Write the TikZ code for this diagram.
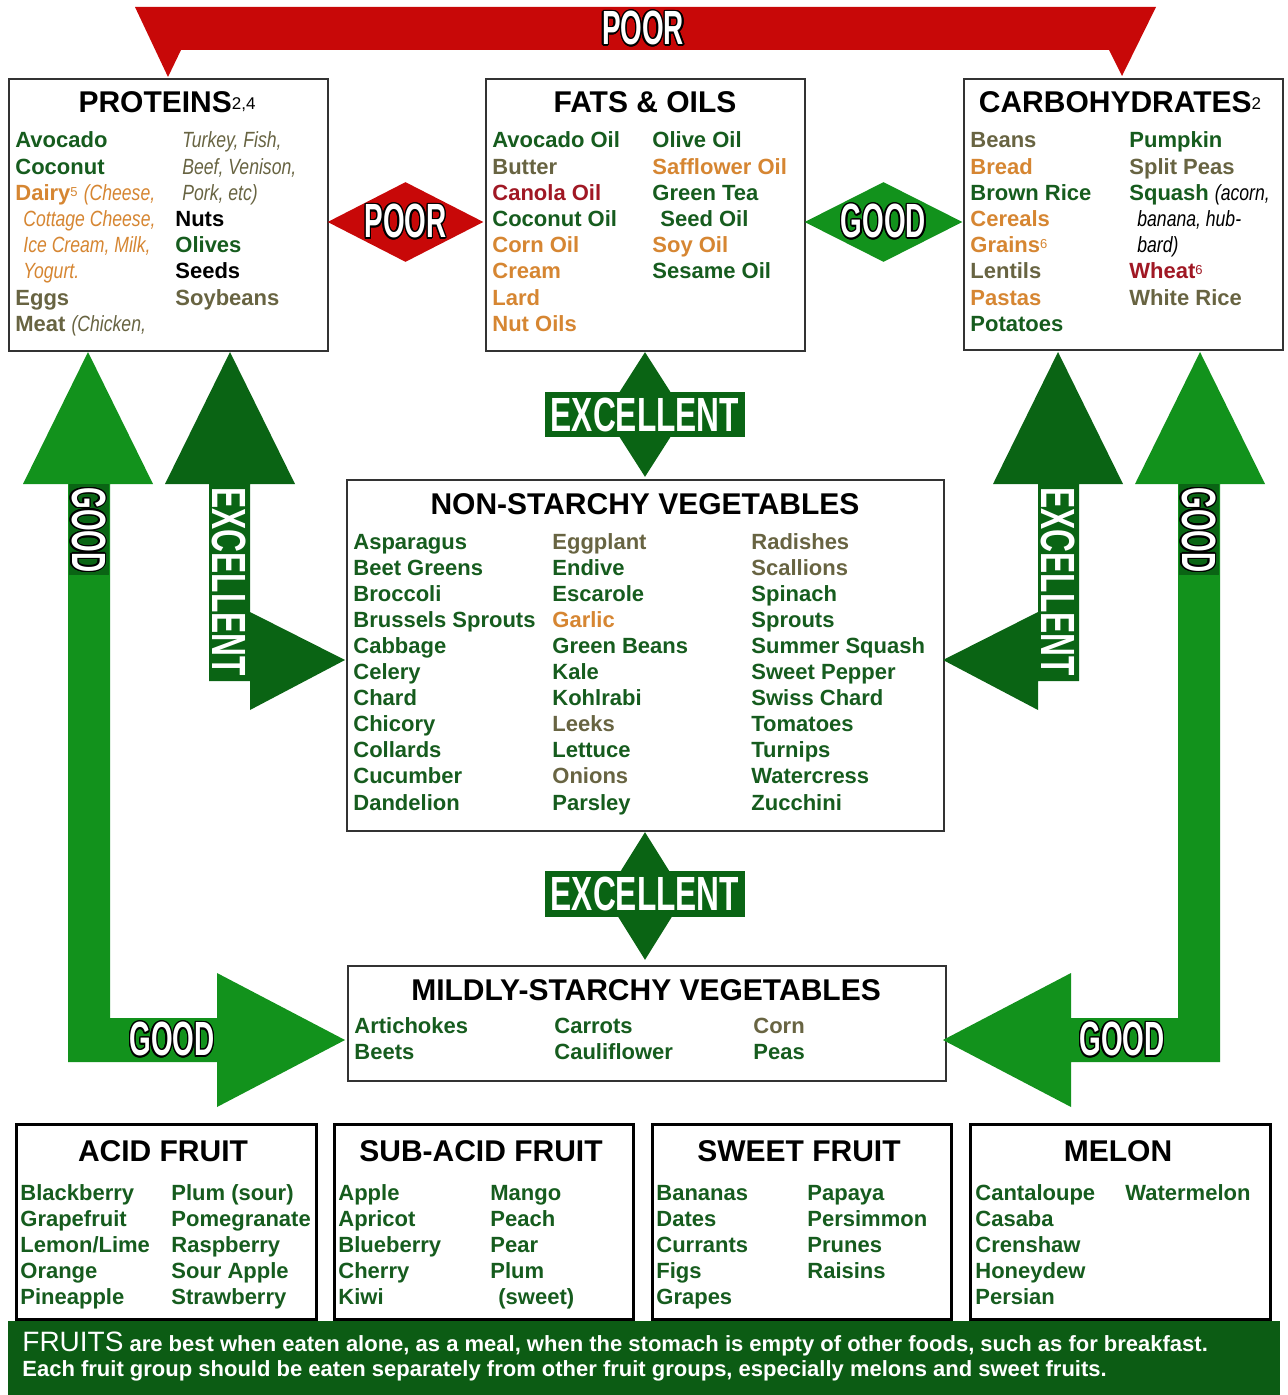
\documentclass[tikz,border=0pt]{standalone}
\usepackage{fontspec}
\setmainfont{Liberation Sans}
\newfontfamily\narrowfont[FakeStretch=0.8]{Liberation Sans}
\newfontfamily\bannerfont[FakeStretch=0.58]{Liberation Sans}
\newfontfamily\widebanner[FakeStretch=0.66]{Liberation Sans}
\usepackage{contour}
\contourlength{0.7pt}
\usetikzlibrary{shapes.geometric}

\definecolor{leafgreen}{RGB}{22,92,30}
\definecolor{olivegray}{RGB}{104,100,66}
\definecolor{carrot}{RGB}{214,134,50}
\definecolor{wine}{RGB}{160,24,36}
\definecolor{poorred}{RGB}{200,8,8}
\definecolor{goodgreen}{RGB}{18,146,28}
\definecolor{excgreen}{RGB}{10,100,20}
\definecolor{bandgreen}{RGB}{12,92,20}

\newcommand{\lite}[1]{{\narrowfont\mdseries\itshape #1}}
\newcommand{\fnum}[1]{\raisebox{2pt}{\mdseries\fontsize{6.5}{6.5}\selectfont #1}}
\newcommand{\tnum}[1]{\raisebox{1.5pt}{\mdseries\fontsize{8.5}{8.5}\selectfont #1}}

\begin{document}
\begin{tikzpicture}[x=0.5pt,y=-0.5pt,
  box/.style={draw=black!80,line width=0.8pt,fill=white,anchor=north west,inner sep=0pt},
  fruitbox/.style={draw=black,line width=1.3pt,fill=white,anchor=north west,inner sep=0pt,
    minimum width=150pt,minimum height=97.5pt},
  ttl/.style={font=\bfseries\fontsize{15}{15}\selectfont,anchor=base,inner sep=0pt},
  item/.style={font=\bfseries\fontsize{11}{11}\selectfont,anchor=base west,inner sep=0pt},
  banner/.style={font=\bannerfont\bfseries\fontsize{24}{24}\selectfont,text=white,inner sep=1pt},
  excbanner/.style={font=\widebanner\bfseries\fontsize{24}{24}\selectfont,text=white,inner sep=1pt},
  upright/.style={rotate=-90,anchor=west,text height=17pt,text depth=0pt,inner sep=1.5pt},
  note/.style={font=\bfseries\fontsize{11}{11}\selectfont,text=white,anchor=base west,inner sep=0pt}]
\useasboundingbox (0,0) rectangle (1288,1395);

% poor band across the top
\fill[poorred] (135,7) -- (1156,7) -- (1122,76) -- (1109,50) -- (181,50) -- (168,77) -- cycle;
\node[banner] (poorT) at (643,29) {\contour{black}{POOR}};

% top row
\node[box,minimum width=159.5pt,minimum height=136pt] (prot) at (8,78) {};
\node[box,minimum width=159.5pt,minimum height=136pt] (fats) at (485,78) {};
\node[box,minimum width=159.5pt,minimum height=135.5pt] (carb) at (963,78) {};
\node[ttl] (protT) at (167,113) {PROTEINS\tnum{2,4}};
\node[ttl] (fatsT) at (645,113) {FATS \& OILS};
\node[ttl] (carbT) at (1120,113) {CARBOHYDRATES\tnum{2}};

\foreach \c/\t [count=\i] in {leafgreen/Avocado, leafgreen/Coconut,
  carrot/{Dairy\fnum{5} \lite{(Cheese,}}, carrot/{\hspace{4pt}\lite{Cottage Cheese,}},
  carrot/{\hspace{4pt}\lite{Ice Cream, Milk,}}, carrot/{\hspace{4pt}\lite{Yogurt.}},
  olivegray/Eggs, olivegray/{Meat \lite{(Chicken,}}}
  \node[item,text=\c] (pr1-\i) at (15,{148+26.2*(\i-1)}) {\t};
\foreach \c/\t [count=\i] in {olivegray/{\hspace{3.5pt}\lite{Turkey, Fish,}},
  olivegray/{\hspace{3.5pt}\lite{Beef, Venison,}}, olivegray/{\hspace{3.5pt}\lite{Pork, etc)}},
  black/Nuts, leafgreen/Olives, black/Seeds, olivegray/Soybeans}
  \node[item,text=\c] (pr2-\i) at (175,{148+26.2*(\i-1)}) {\t};

\foreach \c/\t [count=\i] in {leafgreen/Avocado Oil, olivegray/Butter, wine/Canola Oil,
  leafgreen/Coconut Oil, carrot/Corn Oil, carrot/Cream, carrot/Lard, carrot/Nut Oils}
  \node[item,text=\c] (fa1-\i) at (492,{148+26.2*(\i-1)}) {\t};
\foreach \c/\t [count=\i] in {leafgreen/Olive Oil, carrot/Safflower Oil, leafgreen/Green Tea,
  leafgreen/{\hspace{4pt}Seed Oil}, carrot/Soy Oil, leafgreen/Sesame Oil}
  \node[item,text=\c] (fa2-\i) at (652,{148+26.2*(\i-1)}) {\t};

\foreach \c/\t [count=\i] in {olivegray/Beans, carrot/Bread, leafgreen/Brown Rice,
  carrot/Cereals, carrot/{Grains\fnum{6}}, olivegray/Lentils, carrot/Pastas, leafgreen/Potatoes}
  \node[item,text=\c] (ca1-\i) at (970,{148+26.2*(\i-1)}) {\t};
\foreach \c/\t [count=\i] in {leafgreen/Pumpkin, olivegray/Split Peas,
  leafgreen/{Squash \textcolor{black}{\lite{(acorn,}}}, black/{\hspace{4pt}\lite{banana, hub-}},
  black/{\hspace{4pt}\lite{bard)}}, wine/{Wheat\fnum{6}}, olivegray/White Rice}
  \node[item,text=\c] (ca2-\i) at (1129,{148+26.2*(\i-1)}) {\t};

% diamonds between the top boxes
\node[diamond,fill=poorred,inner sep=0pt,minimum width=78pt,minimum height=40pt] (poorD) at (405.5,222) {};
\node[banner] (poorL) at (poorD) {\contour{black}{POOR}};
\node[diamond,fill=goodgreen,inner sep=0pt,minimum width=79pt,minimum height=40pt] (goodD) at (883.5,222) {};
\node[banner] (goodL) at (goodD) {\contour{black}{GOOD}};

% non-starchy vegetables
\node[box,minimum width=298.5pt,minimum height=175.5pt] (nons) at (346,479) {};
\node[ttl] (nonsT) at (645,514) {NON-STARCHY VEGETABLES};
\foreach \t [count=\i] in {Asparagus, Beet Greens, Broccoli, Brussels Sprouts, Cabbage, Celery,
  Chard, Chicory, Collards, Cucumber, Dandelion}
  \node[item,text=leafgreen] (ns1-\i) at (353,{549+26.1*(\i-1)}) {\t};
\foreach \c/\t [count=\i] in {olivegray/Eggplant, leafgreen/Endive, leafgreen/Escarole,
  carrot/Garlic, leafgreen/Green Beans, leafgreen/Kale, leafgreen/Kohlrabi, olivegray/Leeks,
  leafgreen/Lettuce, olivegray/Onions, leafgreen/Parsley}
  \node[item,text=\c] (ns2-\i) at (552,{549+26.1*(\i-1)}) {\t};
\foreach \c/\t [count=\i] in {olivegray/Radishes, olivegray/Scallions, leafgreen/Spinach,
  leafgreen/Sprouts, leafgreen/Summer Squash, leafgreen/Sweet Pepper, leafgreen/Swiss Chard,
  leafgreen/Tomatoes, leafgreen/Turnips, leafgreen/Watercress, leafgreen/Zucchini}
  \node[item,text=\c] (ns3-\i) at (751,{549+26.1*(\i-1)}) {\t};

% mildly-starchy vegetables
\node[box,minimum width=299pt,minimum height=57.5pt] (mild) at (347,965) {};
\node[ttl] (mildT) at (646,1000) {MILDLY-STARCHY VEGETABLES};
\node[item,text=leafgreen] (ms1) at (354,1033) {Artichokes};
\node[item,text=leafgreen] (ms2) at (354,1059) {Beets};
\node[item,text=leafgreen] (ms3) at (554,1033) {Carrots};
\node[item,text=leafgreen] (ms4) at (554,1059) {Cauliflower};
\node[item,text=olivegray] (ms5) at (753,1033) {Corn};
\node[item,text=leafgreen] (ms6) at (753,1059) {Peas};

% excellent links down the middle
\node[diamond,fill=excgreen,inner sep=0pt,minimum width=40pt,minimum height=62.5pt] (excD1) at (645,414.5) {};
\node[excbanner,fill=excgreen,minimum width=100pt,minimum height=22.5pt] (excL1) at (excD1) {EXCELLENT};
\node[diamond,fill=excgreen,inner sep=0pt,minimum width=40pt,minimum height=64pt] (excD2) at (645,896) {};
\node[excbanner,fill=excgreen,minimum width=100pt,minimum height=23pt] (excL2) at (645,894) {EXCELLENT};

% side arrows, left
\fill[goodgreen] (88,352) -- (153,484) -- (110,484) -- (110,1018) -- (217,1018) -- (217,973)
  -- (345,1040) -- (217,1107) -- (217,1062) -- (68,1062) -- (68,484) -- (23,484) -- cycle;
\fill[excgreen] (230,352) -- (295,484) -- (250,484) -- (250,612) -- (345,660) -- (250,710)
  -- (250,681) -- (209,681) -- (209,484) -- (165,484) -- cycle;
\node[banner,upright,fill=excgreen] (goodV1) at (89,484) {\contour{black}{GOOD}};
\node[excbanner,upright,fill=excgreen] (excV1) at (229.5,484) {EXCELLENT};
\node[banner] (goodH1) at (172,1040) {\contour{black}{GOOD}};

% side arrows, right
\fill[goodgreen] (1200,352) -- (1135,484) -- (1178,484) -- (1178,1018) -- (1071,1018) -- (1071,973)
  -- (943,1040) -- (1071,1107) -- (1071,1062) -- (1220,1062) -- (1220,484) -- (1265,484) -- cycle;
\fill[excgreen] (1058,352) -- (993,484) -- (1038,484) -- (1038,612) -- (943,660) -- (1038,710)
  -- (1038,681) -- (1079,681) -- (1079,484) -- (1123,484) -- cycle;
\node[banner,upright,fill=excgreen] (goodV2) at (1199,484) {\contour{black}{GOOD}};
\node[excbanner,upright,fill=excgreen] (excV2) at (1058.5,484) {EXCELLENT};
\node[banner] (goodH2) at (1122,1040) {\contour{black}{GOOD}};

% fruit groups
\node[fruitbox] (acid) at (15,1123) {};
\node[fruitbox,minimum width=149.5pt] (subacid) at (333,1123) {};
\node[fruitbox,minimum width=149.5pt] (sweet) at (651,1123) {};
\node[fruitbox] (melon) at (969,1123) {};
\node[ttl] (acidT) at (163,1161) {ACID FRUIT};
\node[ttl] (subacidT) at (481,1161) {SUB-ACID FRUIT};
\node[ttl] (sweetT) at (799,1161) {SWEET FRUIT};
\node[ttl] (melonT) at (1118,1161) {MELON};
\foreach \t [count=\i] in {Blackberry, Grapefruit, {Lemon/Lime}, Orange, Pineapple}
  \node[item,text=leafgreen] (af1-\i) at (20,{1200+26.2*(\i-1)}) {\t};
\foreach \t [count=\i] in {Plum (sour), Pomegranate, Raspberry, Sour Apple, Strawberry}
  \node[item,text=leafgreen] (af2-\i) at (171,{1200+26.2*(\i-1)}) {\t};
\foreach \t [count=\i] in {Apple, Apricot, Blueberry, Cherry, Kiwi}
  \node[item,text=leafgreen] (sa1-\i) at (338,{1200+26.2*(\i-1)}) {\t};
\foreach \t [count=\i] in {Mango, Peach, Pear, Plum, {\hspace{4pt}(sweet)}}
  \node[item,text=leafgreen] (sa2-\i) at (490,{1200+26.2*(\i-1)}) {\t};
\foreach \t [count=\i] in {Bananas, Dates, Currants, Figs, Grapes}
  \node[item,text=leafgreen] (sw1-\i) at (656,{1200+26.2*(\i-1)}) {\t};
\foreach \t [count=\i] in {Papaya, Persimmon, Prunes, Raisins}
  \node[item,text=leafgreen] (sw2-\i) at (807,{1200+26.2*(\i-1)}) {\t};
\foreach \t [count=\i] in {Cantaloupe, Casaba, Crenshaw, Honeydew, Persian}
  \node[item,text=leafgreen] (me1-\i) at (975,{1200+26.2*(\i-1)}) {\t};
\node[item,text=leafgreen] (me2-1) at (1125,1200) {Watermelon};

% note band
\node[fill=bandgreen,anchor=north west,inner sep=0pt,minimum width=636pt,minimum height=37pt] (band) at (8,1321) {};
\node[note] (note1) at (22,1351) {{\mdseries\fontsize{14}{14}\selectfont FRUITS} are best when eaten \textbf{alone}, as a meal, when the stomach is empty of other foods, such as for breakfast.};
\node[note] (note2) at (22,1376) {Each fruit group should be eaten separately from other fruit groups, especially melons and sweet fruits.};

\end{tikzpicture}
\end{document}
